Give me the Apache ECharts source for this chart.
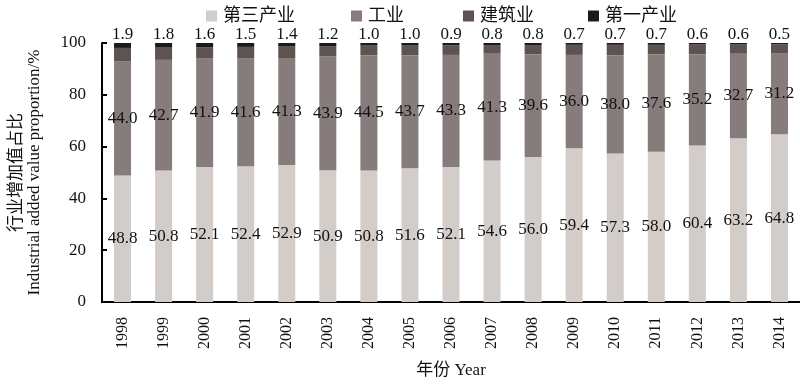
<!DOCTYPE html>
<html>
<head>
<meta charset="utf-8">
<script src="https://cdn.jsdelivr.net/npm/echarts@6/dist/echarts.min.js"></script>
<style>html,body{margin:0;padding:0;background:#fff}#c{width:800px;height:384px}</style>
</head>
<body>
<div id="c"></div>
<script>
const years = ['1998','1999','2000','2001','2002','2003','2004','2005','2006','2007','2008','2009','2010','2011','2012','2013','2014'];
const tertiary = [48.8,50.8,52.1,52.4,52.9,50.9,50.8,51.6,52.1,54.6,56.0,59.4,57.3,58.0,60.4,63.2,64.8];
const industry = [44.0,42.7,41.9,41.6,41.3,43.9,44.5,43.7,43.3,41.3,39.6,36.0,38.0,37.6,35.2,32.7,31.2];
const construction = [5.3,4.7,4.4,4.5,4.4,4.0,3.7,3.7,3.7,3.3,3.6,3.9,4.0,3.7,3.8,3.5,3.5];
const primary = [1.9,1.8,1.6,1.5,1.4,1.2,1.0,1.0,0.9,0.8,0.8,0.7,0.7,0.7,0.6,0.6,0.5];
const seriesNames = ['第三产业','工业','建筑业','第一产业'];
const yTicks = [0,20,40,60,80,100];

const FONT = "'Times New Roman','Liberation Serif','Noto Sans CJK SC',serif";
const chart = echarts.init(document.getElementById('c'), null, {renderer:'canvas'});
const fmt = p => p.value.toFixed(1);
const lbl = {color:'#111', fontFamily:FONT, fontSize:17, formatter:fmt};
const legendLeft = [201, 346, 458, 583];
chart.setOption({
  animation:false,
  textStyle:{fontFamily:FONT},
  legend: seriesNames.map((n,i)=>({
    data:[n], left:legendLeft[i], top:2, icon:'rect', itemWidth:11, itemHeight:11, itemGap:5,
    textStyle:{fontFamily:FONT, fontSize:18, color:'#111', padding:[0,0,0,1]}
  })),
  grid:{left:94, right:0, top:43, bottom:80},
  xAxis:{
    type:'category', data:years,
    axisLine:{lineStyle:{color:'#000', width:2}},
    axisTick:{show:false},
    axisLabel:{rotate:90, color:'#111', fontSize:16, fontFamily:FONT, margin:15},
    name:'年份 Year', nameLocation:'middle', nameGap:60,
    nameTextStyle:{fontSize:17, color:'#111', fontFamily:FONT}
  },
  yAxis:{
    type:'value', min:yTicks[0], max:yTicks[yTicks.length-1], interval:yTicks[1]-yTicks[0],
    axisLine:{show:true, lineStyle:{color:'#000', width:2}},
    axisTick:{show:true, inside:true, length:5, lineStyle:{color:'#000', width:2}},
    splitLine:{show:false},
    axisLabel:{color:'#111', fontSize:17, fontFamily:FONT, margin:16},
    name:'行业增加值占比\nIndustrial added value proportion/%', nameLocation:'middle', nameGap:58,
    nameTextStyle:{fontSize:17, color:'#111', fontFamily:FONT, lineHeight:18}
  },
  series:[
    {name:seriesNames[0], type:'bar', stack:'a', data:tertiary, barWidth:17,
      itemStyle:{color:'#d3cdca'}, label:Object.assign({show:true, position:'inside'}, lbl)},
    {name:seriesNames[1], type:'bar', stack:'a', data:industry, barWidth:17,
      itemStyle:{color:'#857c7b'}, label:Object.assign({show:true, position:'inside'}, lbl)},
    {name:seriesNames[2], type:'bar', stack:'a', data:construction, barWidth:17,
      itemStyle:{color:'#5d5350'}},
    {name:seriesNames[3], type:'bar', stack:'a', data:primary, barWidth:17,
      itemStyle:{color:'#1c1a1a'}, label:Object.assign({show:true, position:'top', distance:0}, lbl)}
  ]
});
</script>
</body>
</html>
